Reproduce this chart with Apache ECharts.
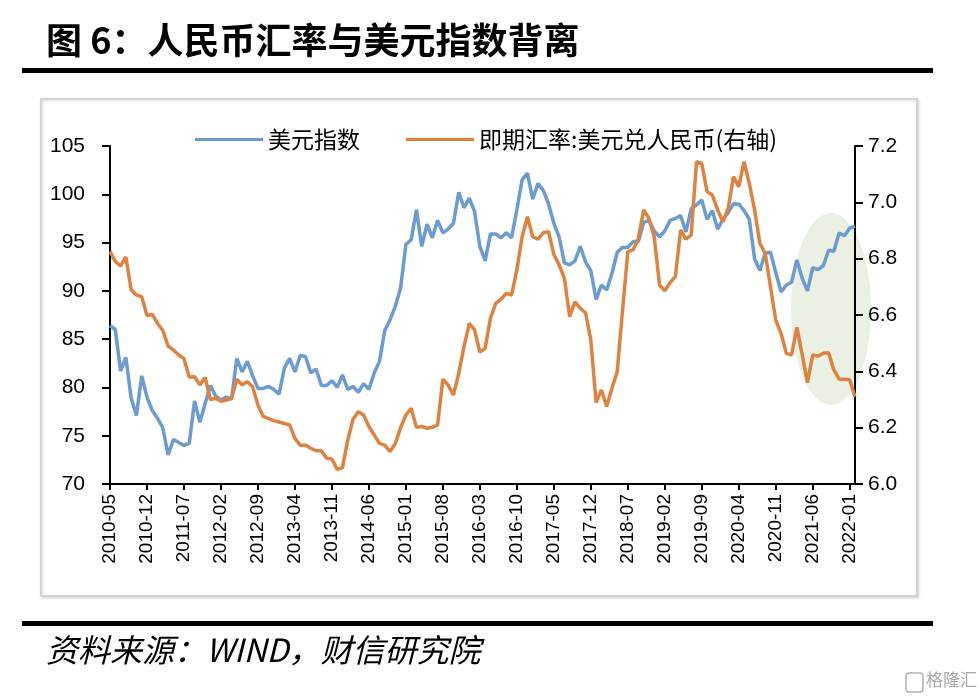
<!DOCTYPE html>
<html><head><meta charset="utf-8">
<script src="https://cdn.jsdelivr.net/npm/echarts@6/dist/echarts.min.js"></script>
<style>html,body{margin:0;padding:0;background:#fff}#c{width:978px;height:696px}</style>
</head><body><div id="c"></div>
<script>
// Month categories 2010-05 .. 2022-02
const startYear = 2010, startMonth = 5, monthCount = 142;
const months = [];
for (let k = 0; k < monthCount; k++) {
  const m = startMonth - 1 + k;
  months.push((startYear + Math.floor(m / 12)) + '-' + String(m % 12 + 1).padStart(2, '0'));
}

// 美元指数 (left axis)
const dollarIndex = [
  86.4, 86.0, 81.7, 83.1, 78.9, 77.1, 81.2, 79.0,
  77.6, 76.8, 75.8, 73.0, 74.6, 74.3, 74.0, 74.2, 78.6, 76.4, 78.3, 80.2,
  79.1, 78.7, 79.0, 78.8, 83.0, 81.6, 82.7, 81.2, 79.9, 79.9, 80.1, 79.8,
  79.3, 82.0, 83.0, 81.6, 83.3, 83.2, 81.5, 81.9, 80.2, 80.2, 80.7, 80.0,
  81.3, 79.8, 80.1, 79.5, 80.4, 79.8, 81.5, 82.7, 85.9, 87.0, 88.4, 90.3,
  94.8, 95.3, 98.4, 94.6, 96.9, 95.5, 97.3, 96.0, 96.4, 97.0, 100.2, 98.6,
  99.6, 98.2, 94.6, 93.1, 95.9, 95.9, 95.5, 96.0, 95.5, 98.4, 101.5, 102.2,
  99.5, 101.1, 100.4, 99.0, 97.0, 95.6, 92.9, 92.7, 93.1, 94.6, 93.0, 92.1,
  89.1, 90.6, 90.1, 91.8, 94.0, 94.5, 94.5, 95.1, 95.1, 97.1, 97.3, 96.2,
  95.6, 96.2, 97.3, 97.5, 97.8, 96.1, 98.5, 98.9, 99.4, 97.4, 98.3, 96.4,
  97.4, 98.1, 99.0, 99.0, 98.3, 97.4, 93.3, 92.1, 93.9, 94.0, 91.9, 89.9,
  90.6, 90.9, 93.2, 91.3, 90.0, 92.4, 92.2, 92.6, 94.2, 94.1, 96.0, 95.7,
  96.5, 96.7
];

// 即期汇率:美元兑人民币 (right axis)
const usdCny = [
  6.826, 6.790, 6.774, 6.806, 6.690, 6.671, 6.665, 6.598,
  6.602, 6.570, 6.545, 6.490, 6.476, 6.458, 6.445, 6.380, 6.381, 6.352, 6.378, 6.300,
  6.304, 6.294, 6.298, 6.304, 6.372, 6.352, 6.363, 6.345, 6.280, 6.240, 6.232, 6.225,
  6.220, 6.215, 6.210, 6.162, 6.138, 6.138, 6.127, 6.118, 6.118, 6.091, 6.089, 6.052,
  6.058, 6.156, 6.230, 6.257, 6.245, 6.204, 6.174, 6.144, 6.138, 6.115, 6.144, 6.200,
  6.245, 6.269, 6.201, 6.204, 6.198, 6.201, 6.210, 6.372, 6.351, 6.316, 6.393, 6.488,
  6.570, 6.547, 6.468, 6.482, 6.588, 6.641, 6.656, 6.677, 6.671, 6.760, 6.878, 6.949,
  6.878, 6.869, 6.892, 6.896, 6.815, 6.778, 6.730, 6.594, 6.647, 6.624, 6.608, 6.511,
  6.289, 6.334, 6.275, 6.340, 6.399, 6.615, 6.825, 6.831, 6.872, 6.973, 6.943, 6.878,
  6.707, 6.686, 6.715, 6.736, 6.902, 6.869, 6.884, 7.144, 7.138, 7.038, 7.026, 6.973,
  6.931, 6.979, 7.091, 7.056, 7.144, 7.067, 6.973, 6.854, 6.819, 6.700, 6.582, 6.535,
  6.464, 6.458, 6.556, 6.460, 6.360, 6.458, 6.454, 6.464, 6.466, 6.405, 6.372, 6.372,
  6.370, 6.310
];

const seriesNames = ['美元指数', '即期汇率:美元兑人民币(右轴)'];
const leftAxisRange = [70, 105, 5];
const rightAxisRange = [6.0, 7.2, 0.2];

const chart = echarts.init(document.getElementById('c'), null, {renderer: 'canvas'});
const axisFont = 'Liberation Sans, Arial, sans-serif';
const cjkFont = '"Noto Sans CJK SC", sans-serif';

chart.setOption({
  backgroundColor: '#fff',
  animation: false,
  grid: {left: 110, right: 123, top: 146, bottom: 212, containLabel: false},
  legend: {
    left: 190, top: 123,
    icon: 'rect', itemWidth: 68, itemHeight: 3, itemGap: 46,
    textStyle: {fontFamily: cjkFont, fontSize: 23, color: '#000'},
    data: seriesNames
  },
  xAxis: {
    type: 'category', data: months, boundaryGap: false,
    axisLine: {lineStyle: {color: '#000', width: 2}},
    axisTick: {interval: 6, length: 6, lineStyle: {color: '#000', width: 2}},
    axisLabel: {interval: 6, rotate: 90, margin: 10, fontFamily: axisFont, fontSize: 19, color: '#000'},
    splitLine: {show: false}
  },
  yAxis: [
    {
      type: 'value', min: leftAxisRange[0], max: leftAxisRange[1], interval: leftAxisRange[2],
      axisLine: {show: true, lineStyle: {color: '#000', width: 2}},
      axisTick: {show: true, length: 8, lineStyle: {color: '#000', width: 2}},
      axisLabel: {margin: 25, fontFamily: axisFont, fontSize: 21, color: '#000'},
      splitLine: {show: false}
    },
    {
      type: 'value', min: rightAxisRange[0], max: rightAxisRange[1], interval: rightAxisRange[2],
      position: 'right',
      axisLine: {show: true, lineStyle: {color: '#000', width: 2}},
      axisTick: {show: true, length: 8, lineStyle: {color: '#000', width: 2}},
      axisLabel: {margin: 13, fontFamily: axisFont, fontSize: 21, color: '#000',
        formatter: v => v.toFixed(1)},
      splitLine: {show: false}
    }
  ],
  series: [
    {name: seriesNames[0], type: 'line', data: dollarIndex, yAxisIndex: 0,
     symbol: 'none', lineStyle: {color: '#6A9BD2', width: 3.5}, itemStyle: {color: '#6A9BD2'}, z: 3},
    {name: seriesNames[1], type: 'line', data: usdCny, yAxisIndex: 1,
     symbol: 'none', lineStyle: {color: '#E0823F', width: 3.5}, itemStyle: {color: '#E0823F'}, z: 4}
  ],
  graphic: [
    {type: 'rect', z: -10, silent: true, shape: {x: 41, y: 99, width: 876, height: 497},
     style: {fill: '#fff', stroke: '#d4d4d4', lineWidth: 2, shadowColor: 'rgba(0,0,0,0.15)', shadowBlur: 3, shadowOffsetX: 1, shadowOffsetY: 1}},
    {type: 'ellipse', z: -5, silent: true, shape: {cx: 831, cy: 309, rx: 40, ry: 96},
     style: {fill: '#EBF1E2'}},
    {type: 'text', left: 46, top: 22, style: {text: '图 6：人民币汇率与美元指数背离', fill: '#000',
      font: 'bold 36px "Noto Sans CJK SC", sans-serif'}},
    {type: 'rect', shape: {x: 22, y: 68, width: 911, height: 5}, style: {fill: '#000'}},
    {type: 'rect', shape: {x: 22, y: 621, width: 911, height: 5}, style: {fill: '#000'}},
    {type: 'text', left: 46, top: 634, style: {text: '资料来源：WIND，财信研究院', fill: '#000',
      font: 'italic 32px "Noto Sans CJK SC", sans-serif'}},
    {type: 'rect', shape: {x: 906, y: 673, width: 17, height: 19, r: 3},
     style: {fill: 'none', stroke: '#b0b0b0', lineWidth: 1.5}},
    {type: 'text', left: 926, top: 671, style: {text: '格隆汇', fill: '#a8a8a8',
      font: '17px "Noto Sans CJK SC", sans-serif'}}
  ]
});
</script>
</body></html>
